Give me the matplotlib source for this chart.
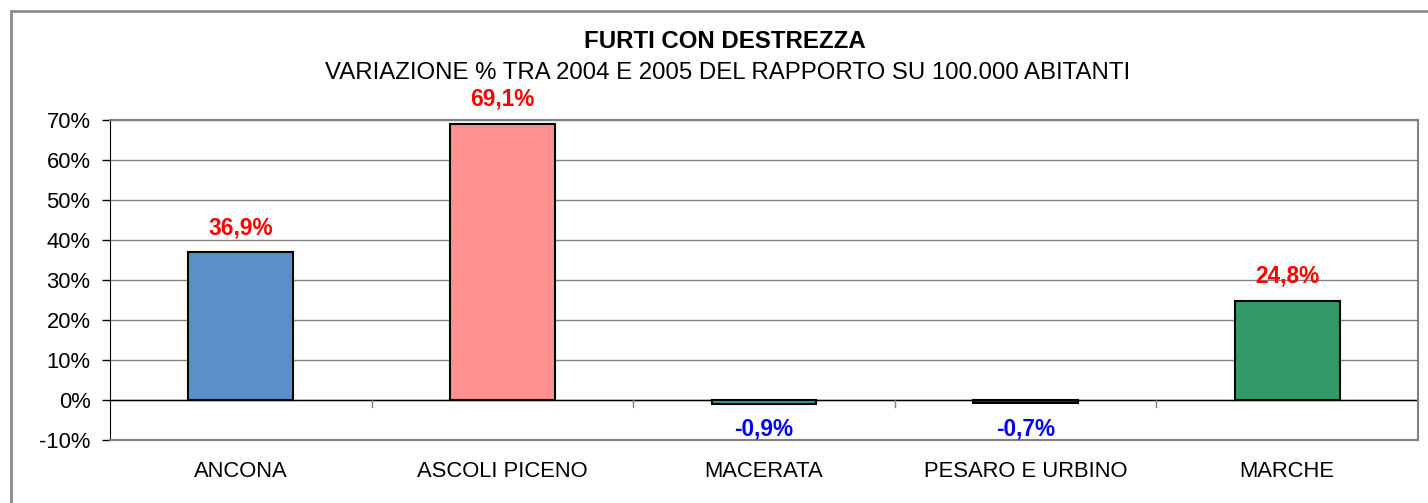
import matplotlib
matplotlib.use("Agg")
import matplotlib.pyplot as plt
from matplotlib.patches import Rectangle

plt.rcParams['font.family'] = ['Liberation Sans', 'DejaVu Sans']

provinces = ['ANCONA', 'ASCOLI PICENO', 'MACERATA', 'PESARO E URBINO', 'MARCHE']
variation = [36.9, 69.1, -0.9, -0.7, 24.8]
labels = ['36,9%', '69,1%', '-0,9%', '-0,7%', '24,8%']
colors = ['#5B8FC9', '#FF918F', '#2E9C9C', '#3A2A12', '#339966']

fig = plt.figure(figsize=(14.28, 5.03), dpi=100)
ax = fig.add_axes([110 / 1428, 1 - 440 / 503, 1308 / 1428, 320 / 503])

# outer chart border
fig.patches.append(Rectangle((11 / 1428, -0.1), 1.2, 1 - 11 / 503 + 0.1,
                             transform=fig.transFigure, fill=False,
                             edgecolor='#8c8c8c', linewidth=2))

x = list(range(len(provinces)))
ax.bar(x, variation, width=0.4, color=colors, edgecolor='black', linewidth=1.5, zorder=3)

ax.set_xlim(-0.5, len(provinces) - 0.5)
ax.set_ylim(-10, 70)
ax.set_yticks(range(-10, 71, 10))
ax.set_yticklabels([f'{v}%' for v in range(-10, 71, 10)], fontsize=15.8)
ax.yaxis.grid(True, color='#808080', linewidth=1, zorder=0)
ax.axhline(0, color='black', linewidth=1, zorder=2)

ax.set_xticks(x)
ax.set_xticklabels(provinces, fontsize=15.8)
ax.tick_params(axis='x', length=0, pad=15)
ax.tick_params(axis='y', length=6, width=1, color='black', pad=8)
# category separator ticks on the zero line
for b in range(1, len(provinces)):
    ax.plot([b - 0.5, b - 0.5], [0, -1.7], color='#808080', linewidth=1, zorder=2, clip_on=False)

for s in ['top', 'right']:
    ax.spines[s].set_color('#808080')
    ax.spines[s].set_linewidth(1.5)
ax.spines['left'].set_color('black')
ax.spines['bottom'].set_color('#808080')
ax.spines['bottom'].set_linewidth(1.5)

for i, (v, t) in enumerate(zip(variation, labels)):
    if v >= 0:
        ax.text(i, v + 3.2, t, ha='center', va='bottom', color='#FF0000',
                fontsize=16.3, fontweight='bold')
    else:
        ax.text(i, -7.2, t, ha='center', va='center', color='#0000FF',
                fontsize=16.3, fontweight='bold')

fig.text(725 / 1428, 1 - 42 / 503, 'FURTI CON DESTREZZA', ha='center', va='center',
         fontsize=17.3, fontweight='bold')
fig.text(728 / 1428, 1 - 73 / 503, 'VARIAZIONE % TRA 2004 E 2005 DEL RAPPORTO SU 100.000 ABITANTI',
         ha='center', va='center', fontsize=17.3)

plt.savefig('out.png', dpi=100)
